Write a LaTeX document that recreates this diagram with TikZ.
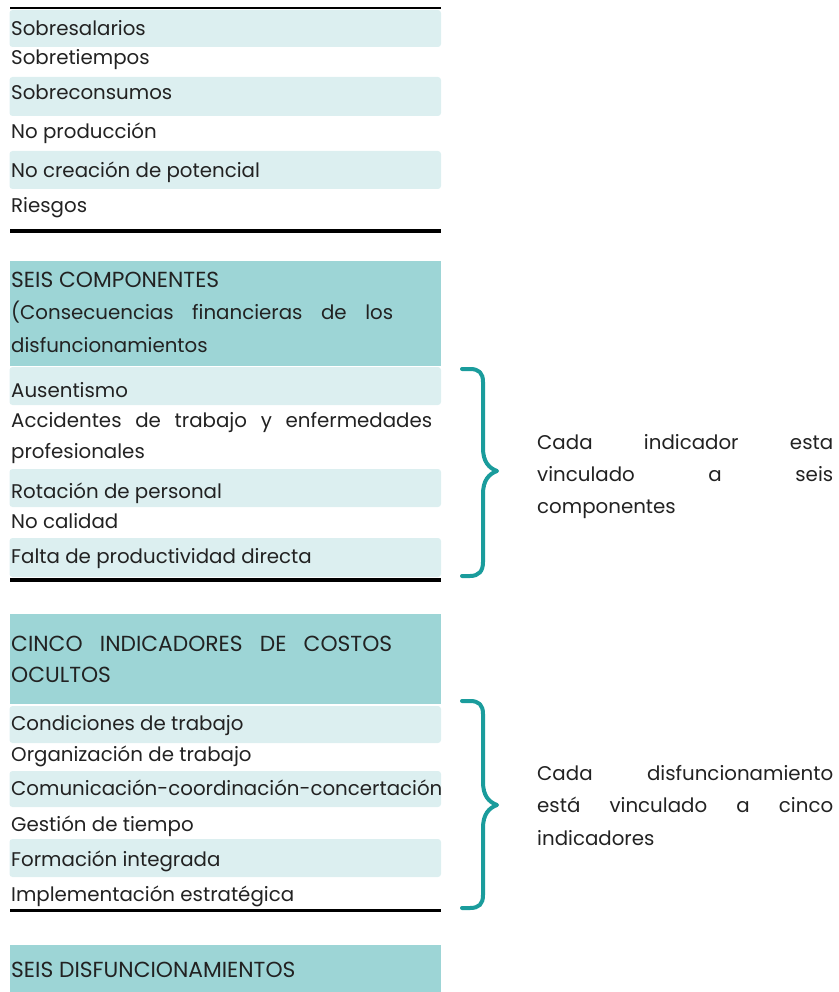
\documentclass[tikz,border=0pt]{standalone}
\usepackage{fontspec}
\setmainfont{Poppins}
\definecolor{darkband}{HTML}{9DD5D6}
\definecolor{lightband}{HTML}{DCEFF0}
\definecolor{bracec}{HTML}{1A9C9C}
\definecolor{textc}{HTML}{222222}
\newcommand{\mf}{\fontsize{19.8}{22}\selectfont}
\newcommand{\capf}{\fontsize{21.8}{24}\selectfont}
\tikzset{
  band/.style={fill=lightband, rounded corners=3pt},
  hdr/.style={fill=darkband},
  txt/.style={anchor=base west, inner sep=0pt, text=textc, font=\mf},
  captxt/.style={txt, font=\capf},
  thinrule/.style={line width=2pt, draw=black},
  thickrule/.style={line width=3.5pt, draw=black},
  bracepath/.style={line width=4pt, draw=bracec, line cap=round, line join=round},
}
\begin{document}
\begin{tikzpicture}[x=1pt,y=-1pt]
\useasboundingbox (0,0) rectangle (838,992);
% section 1
\draw[thinrule] (10,8) -- (441,8);
\path[band] (9.5,10) rectangle (441,47);
\path[band] (9.5,77) rectangle (441,116);
\path[band] (9.5,151) rectangle (441,189);
\node[txt] (a1) at (11,36) {Sobresalarios};
\node[txt] (a2) at (11,65) {Sobretiempos};
\node[txt] (a3) at (11,100) {Sobreconsumos};
\node[txt] (a4) at (11,139) {No producción};
\node[txt] (a5) at (11,178) {No creación de potencial};
\node[txt] (a6) at (11,213) {Riesgos};
\draw[thickrule] (10,231) -- (441,231);
% section 2
\path[hdr] (9.5,261) rectangle (441,366);
\node[captxt] (h1) at (11,287) {SEIS COMPONENTES};
\node[txt] (h2) at (11,319) {\makebox[382pt][s]{(Consecuencias financieras de los}};
\node[txt] (h3) at (11,352) {disfuncionamientos};
\path[band] (9.5,367) rectangle (441,405);
\path[band] (9.5,469) rectangle (441,507);
\path[band] (9.5,538) rectangle (441,577);
\node[txt] (b1) at (11,397) {Ausentismo};
\node[txt] (b2) at (11,427) {\makebox[421pt][s]{Accidentes de trabajo y enfermedades}};
\node[txt] (b3) at (11,458) {profesionales};
\node[txt] (b4) at (11,498) {Rotación de personal};
\node[txt] (b5) at (11,528) {No calidad};
\node[txt] (b6) at (11,563) {Falta de productividad directa};
\draw[thickrule] (10,580) -- (441,580);
% section 3
\path[hdr] (9.5,614) rectangle (441,704);
\node[captxt] (h4) at (11,651) {\makebox[381pt][s]{CINCO INDICADORES DE COSTOS}};
\node[captxt] (h5) at (11,682) {OCULTOS};
\path[band] (9.5,706) rectangle (441,743);
\path[band] (9.5,771) rectangle (441,807);
\path[band] (9.5,839) rectangle (441,877);
\node[txt] (c1) at (11,730) {Condiciones de trabajo};
\node[txt] (c2) at (11,761) {Organización de trabajo};
\node[txt] (c3) at (11,795) {Comunicación-coordinación-concertación};
\node[txt] (c4) at (11,831) {Gestión de tiempo};
\node[txt] (c5) at (11,866) {Formación integrada};
\node[txt] (c6) at (11,901) {Implementación estratégica};
\draw[thickrule] (10,910.5) -- (441,910.5);
% section 4
\path[hdr] (9.5,945) rectangle (441,992);
\node[captxt] (h6) at (11,977) {SEIS DISFUNCIONAMIENTOS};
% braces
\draw[bracepath] (462,369) -- (470,369) .. controls (479,369) and (483,373) .. (483,382)
  -- (483,448) .. controls (483,462) and (489,468) .. (497,471)
  .. controls (489,474) and (483,480) .. (483,494)
  -- (483,562) .. controls (483,571) and (479,576) .. (470,576) -- (462,576);
\draw[bracepath] (462,701) -- (470,701) .. controls (479,701) and (483,705) .. (483,714)
  -- (483,782) .. controls (483,796) and (489,802) .. (497,805)
  .. controls (489,808) and (483,814) .. (483,828)
  -- (483,895) .. controls (483,904) and (479,908) .. (470,908) -- (462,908);
% right texts
\node[txt] (r1) at (537,449) {\makebox[296pt][s]{Cada indicador esta}};
\node[txt] (r2) at (537,481) {\makebox[296pt][s]{vinculado a seis}};
\node[txt] (r3) at (537,513) {componentes};
\node[txt] (s1) at (537,780) {\makebox[296pt][s]{Cada disfuncionamiento}};
\node[txt] (s2) at (537,812) {\makebox[296pt][s]{está vinculado a cinco}};
\node[txt] (s3) at (537,845) {indicadores};
\end{tikzpicture}
\end{document}
